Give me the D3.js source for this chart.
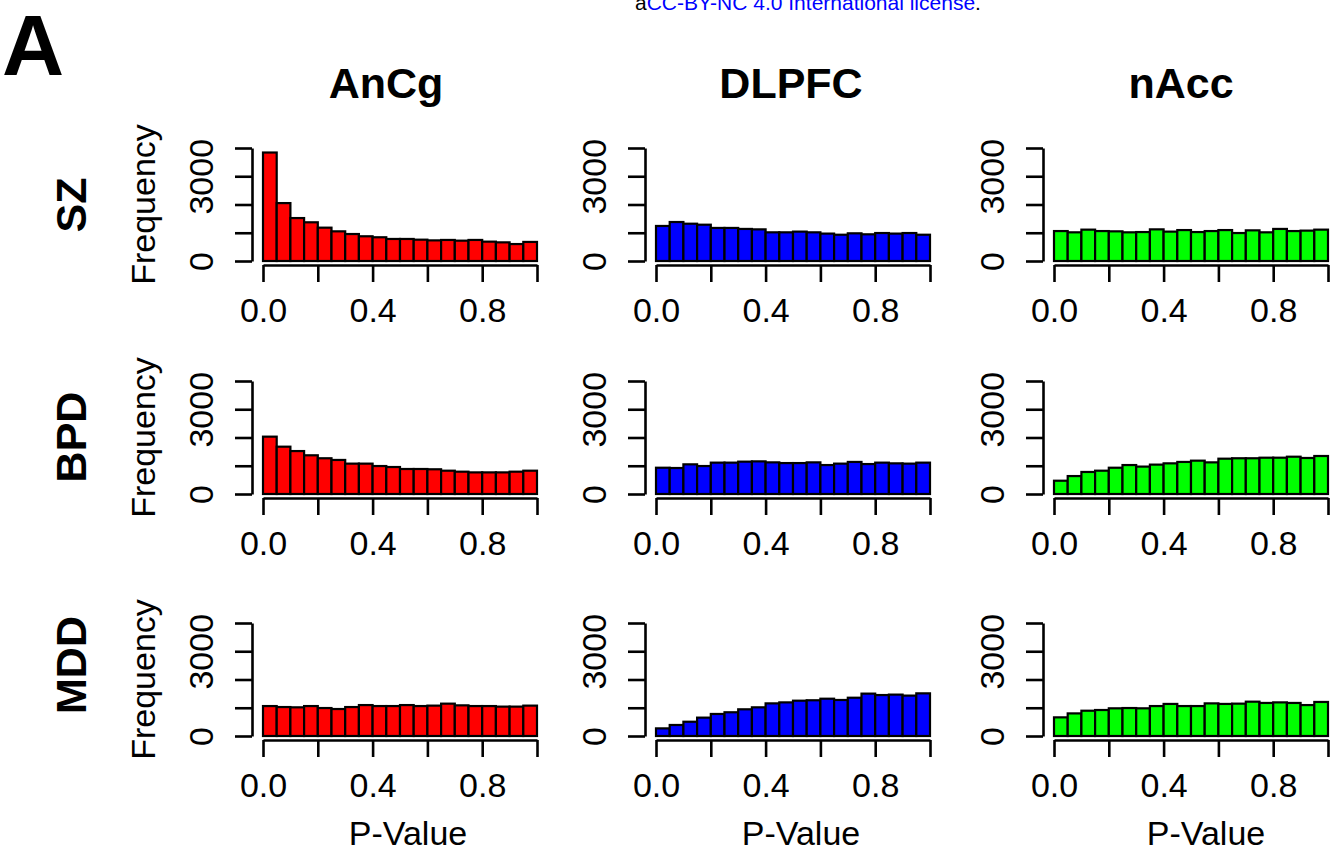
<!DOCTYPE html>
<html>
<head>
<meta charset="utf-8">
<style>
    body { margin: 0; background: #fff; }
    svg { display: block; font-family: "Liberation Sans", Arial, Helvetica, sans-serif; }
</style>
</head>
<body>
<script src="https://d3js.org/d3.v7.min.js"></script>
<script>
    // histogram breaks (20 bins on [0, 1])
    const pBreaks = [0, 0.05, 0.1, 0.15, 0.2, 0.25, 0.3, 0.35, 0.4, 0.45, 0.5,
                     0.55, 0.6, 0.65, 0.7, 0.75, 0.8, 0.85, 0.9, 0.95, 1.0];

    const regions = ["AnCg", "DLPFC", "nAcc"];
    const disorders = ["SZ", "BPD", "MDD"];
    const regionColors = ["#ff0000", "#0000ff", "#00ff00"];

    const yTicks = [0, 1000, 2000, 3000, 4000];
    const yTickLabels = ["0", "", "", "3000", ""];
    const xTicks = [0, 0.2, 0.4, 0.6, 0.8, 1.0];
    const xTickLabels = ["0.0", "", "0.4", "", "0.8", ""];

    // counts per bin
    const szAnCg  = [3840, 2050, 1520, 1370, 1180, 1050, 955, 875, 840, 780, 780, 755, 730, 745, 720, 745, 685, 660, 600, 675];
    const szDLPFC = [1240, 1380, 1320, 1285, 1170, 1170, 1135, 1120, 1015, 1015, 1040, 1015, 970, 930, 980, 945, 990, 970, 990, 930];
    const szNAcc  = [1060, 1015, 1110, 1060, 1050, 1015, 1025, 1120, 1040, 1095, 1025, 1060, 1095, 990, 1085, 1015, 1135, 1060, 1075, 1110];
    const bpdAnCg  = [2030, 1675, 1520, 1370, 1265, 1205, 1075, 1075, 990, 955, 885, 885, 875, 825, 790, 765, 765, 765, 790, 825];
    const bpdDLPFC = [930, 920, 1050, 990, 1110, 1110, 1145, 1155, 1120, 1095, 1095, 1120, 1025, 1075, 1135, 1060, 1110, 1085, 1075, 1110];
    const bpdNAcc  = [470, 635, 780, 825, 930, 1025, 970, 1040, 1085, 1135, 1180, 1120, 1250, 1265, 1265, 1285, 1285, 1320, 1275, 1345];
    const mddAnCg  = [1060, 1025, 1015, 1060, 990, 955, 1025, 1095, 1060, 1060, 1095, 1060, 1075, 1145, 1085, 1060, 1060, 1040, 1040, 1075];
    const mddDLPFC = [270, 390, 505, 650, 780, 840, 945, 1015, 1155, 1190, 1250, 1265, 1320, 1275, 1355, 1500, 1450, 1465, 1430, 1510];
    const mddNAcc  = [660, 800, 895, 920, 980, 990, 980, 1060, 1135, 1060, 1060, 1155, 1135, 1145, 1215, 1170, 1190, 1170, 1095, 1205];

    const counts = [
        [szAnCg, szDLPFC, szNAcc],
        [bpdAnCg, bpdDLPFC, bpdNAcc],
        [mddAnCg, mddDLPFC, mddNAcc]
    ];

    // layout
    const colX0 = [263, 656, 1054];
    const plotW = 274;
    const rowZero = [261, 494, 736];
    const plotH = 113;
    const titleX = [386, 791, 1181];
    const xlabX = [408, 801, 1206];
    const rowLabelY = [205, 437, 665];
    const font = "'Liberation Sans', Arial, Helvetica, sans-serif";

    let svg = d3.select("body").append("svg")
        .attr("width", 1333)
        .attr("height", 851);

    // licence fragment, cut by the top edge as in the source
    let lic = svg.append("text")
        .attr("x", 635)
        .attr("y", 10)
        .attr("font-size", 21);
    lic.append("tspan").text("a");
    lic.append("tspan").attr("fill", "#0000ff").text("CC-BY-NC 4.0 International license");
    lic.append("tspan").text(".");

    svg.append("text")
        .attr("x", 2)
        .attr("y", 75)
        .attr("font-size", 86)
        .attr("font-weight", "bold")
        .text("A");

    regions.forEach((r, c) => {
        svg.append("text")
            .attr("x", titleX[c])
            .attr("y", 98)
            .attr("text-anchor", "middle")
            .attr("font-size", 43)
            .attr("font-weight", "bold")
            .text(r);
    });

    disorders.forEach((dz, r) => {
        svg.append("text")
            .attr("transform", `translate(86,${rowLabelY[r]}) rotate(-90)`)
            .attr("text-anchor", "middle")
            .attr("font-size", 43)
            .attr("font-weight", "bold")
            .text(dz);
    });

    for (let r = 0; r < 3; r++) {
        for (let c = 0; c < 3; c++) {
            let x = d3.scaleLinear().domain([0, 1]).range([colX0[c], colX0[c] + plotW]);
            let y = d3.scaleLinear().domain([0, 4000]).range([rowZero[r], rowZero[r] - plotH]);
            let g = svg.append("g");

            let bins = counts[r][c].map((v, i) => ({ x0: pBreaks[i], x1: pBreaks[i + 1], v: v }));

            g.selectAll("rect")
                .data(bins)
                .join("rect")
                .attr("x", d => x(d.x0))
                .attr("width", d => x(d.x1) - x(d.x0))
                .attr("y", d => y(d.v))
                .attr("height", d => y(0) - y(d.v))
                .attr("fill", regionColors[c])
                .attr("stroke", "#000")
                .attr("stroke-width", 2.2);

            // y axis (R style: offset 4% left of the data)
            g.append("g")
                .attr("transform", `translate(${x(0) - 11},0)`)
                .call(d3.axisLeft(y).tickValues(yTicks).tickSize(17).tickSizeOuter(0)
                    .tickFormat((d, i) => yTickLabels[i]))
                .call(a => {
                    a.select(".domain").attr("stroke-width", 2.6);
                    a.selectAll(".tick line").attr("stroke-width", 2.6);
                    a.selectAll("text")
                        .attr("x", null)
                        .attr("dy", null)
                        .attr("transform", "translate(-39,0) rotate(-90)")
                        .attr("text-anchor", "middle")
                        .attr("font-size", 34)
                        .attr("font-family", font)
                        .attr("fill", "#000");
                });

            // x axis
            g.append("g")
                .attr("transform", `translate(0,${rowZero[r] + 4})`)
                .call(d3.axisBottom(x).tickValues(xTicks).tickSize(17).tickSizeOuter(0)
                    .tickFormat((d, i) => xTickLabels[i]))
                .call(a => {
                    a.select(".domain").attr("stroke-width", 2.6);
                    a.selectAll(".tick line").attr("stroke-width", 2.6);
                    a.selectAll("text")
                        .attr("y", 57)
                        .attr("dy", null)
                        .attr("font-size", 34)
                        .attr("font-family", font)
                        .attr("fill", "#000");
                });

            if (c === 0) {
                g.append("text")
                    .attr("transform", `translate(${x(0) - 108},${(y(0) + y(4000)) / 2}) rotate(-90)`)
                    .attr("text-anchor", "middle")
                    .attr("font-size", 34)
                    .text("Frequency");
            }
            if (r === 2) {
                g.append("text")
                    .attr("x", xlabX[c])
                    .attr("y", 845)
                    .attr("text-anchor", "middle")
                    .attr("font-size", 34)
                    .text("P-Value");
            }
        }
    }
</script>
</body>
</html>
